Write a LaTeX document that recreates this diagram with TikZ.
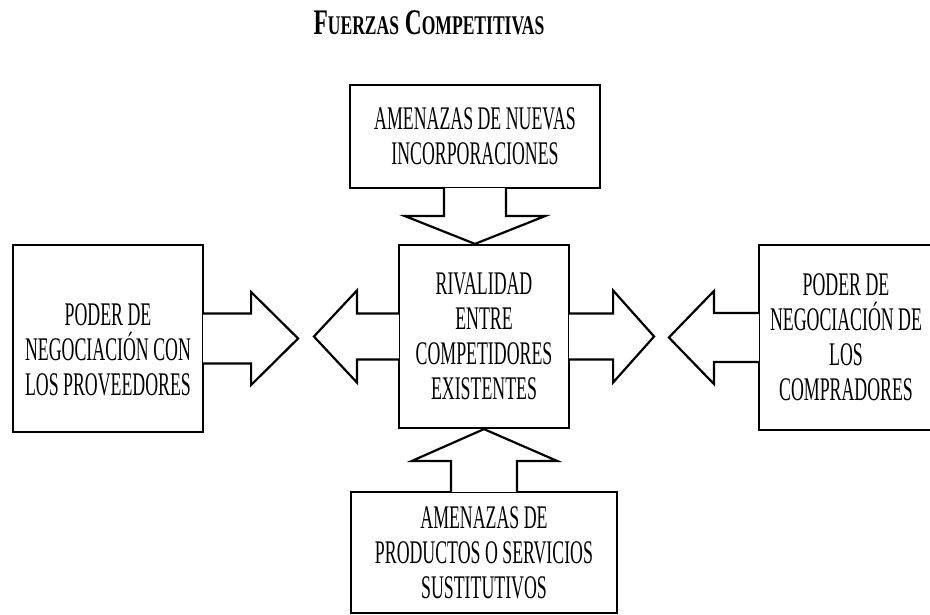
\documentclass[tikz,border=0pt]{standalone}
\usepackage{fontspec}
\setmainfont{Liberation Serif}[FakeStretch=0.54]
\newfontfamily\titulofont{Liberation Serif}[FakeStretch=0.65]
\usetikzlibrary{calc}
\tikzset{
caja/.style = {draw, fill=white, rectangle, line width=2.2pt, align=center, inner sep=0pt, font=\fontsize{33}{35}\selectfont},
flecha/.style = {draw, fill=white, line width=2.2pt, line join=miter},
titulo/.style = {anchor=base, font=\titulofont\bfseries\fontsize{36}{36}\selectfont}
}

\begin{document}
\begin{tikzpicture}[x=1pt, y=-1pt]
    \useasboundingbox (0,0) rectangle (930,615);
    \node [titulo] (titulo) at (429,35) {F{\fontsize{27}{27}\selectfont UERZAS} C{\fontsize{27}{27}\selectfont OMPETITIVAS}};
    % cajas
    \node [caja, minimum width=170pt, minimum height=183pt] (rivalidad) at (484,336.5) {RIVALIDAD\\ENTRE\\COMPETIDORES\\EXISTENTES};
    \node [caja, minimum width=250pt, minimum height=103pt] (nuevas) at (475,136.5) {AMENAZAS DE NUEVAS\\INCORPORACIONES};
    \node [caja, minimum width=190pt, minimum height=187pt, text height=114pt] (proveedores) at (108,338.5) {PODER DE\\NEGOCIACIÓN CON\\LOS PROVEEDORES};
    \node [caja, minimum width=174pt, minimum height=185pt] (compradores) at (846,337.5) {PODER DE\\NEGOCIACIÓN DE\\LOS\\COMPRADORES};
    \node [caja, minimum width=266pt, minimum height=121pt] (sustitutos) at (484,552.5) {AMENAZAS DE\\PRODUCTOS O SERVICIOS\\SUSTITUTIVOS};
    % flechas
    \draw [flecha] ($(nuevas.south)+(-31,-1)$) -- ++(0,28) -- ++(-39,0) -- (nuevas.south |- rivalidad.north) -- ($(nuevas.south)+(70,27)$) -- ++(-39,0) -- ($(nuevas.south)+(31,-1)$);
    \draw [flecha] ($(sustitutos.north)+(-33,1)$) -- ++(0,-31) -- ++(-39,0) -- (sustitutos.north |- rivalidad.south) -- ($(sustitutos.north)+(73,-30)$) -- ++(-40,0) -- ($(sustitutos.north)+(33,1)$);
    \draw [flecha] ($(rivalidad.west)+(1,-23)$) -- ++(-42,0) -- ++(0,-23) -- ($(rivalidad.west)+(-84,0)$) -- ($(rivalidad.west)+(-41,46)$) -- ++(0,-23) -- ($(rivalidad.west)+(1,23)$);
    \draw [flecha] ($(rivalidad.east)+(-1,-23)$) -- ++(44,0) -- ++(0,-23) -- ($(rivalidad.east)+(84,0)$) -- ($(rivalidad.east)+(43,46)$) -- ++(0,-23) -- ($(rivalidad.east)+(-1,23)$);
    \draw [flecha] ($(proveedores.east)+(-1,-25)$) -- ++(48,0) -- ++(0,-21.5) -- ($(proveedores.east)+(94,0)$) -- ($(proveedores.east)+(47,46.5)$) -- ++(0,-21.5) -- ($(proveedores.east)+(-1,25)$);
    \draw [flecha] ($(compradores.west)+(1,-24.5)$) -- ++(-45,0) -- ++(0,-22) -- ($(compradores.west)+(-89,0)$) -- ($(compradores.west)+(-44,46.5)$) -- ++(0,-22) -- ($(compradores.west)+(1,24.5)$);
\end{tikzpicture}
\end{document}
